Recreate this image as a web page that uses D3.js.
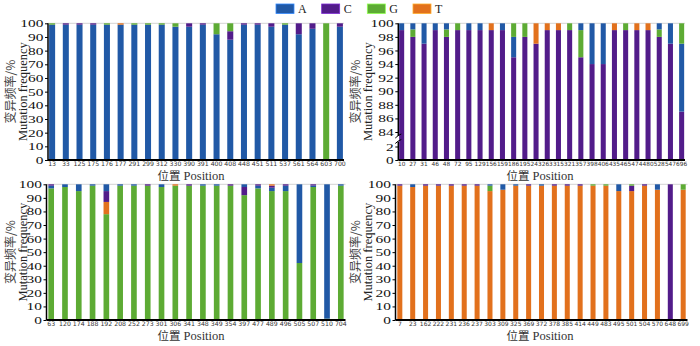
<!DOCTYPE html>
<html><head><meta charset="utf-8">
<script src="https://cdn.jsdelivr.net/npm/d3@7"></script>
<style>body{margin:0;background:#fff} svg{display:block}</style>
</head><body>
<svg id="chart" width="700" height="346"></svg>
<script>
const bases = ["A", "C", "G", "T"];
const colors = {A: "#2159a6", C: "#521c8a", G: "#5dab34", T: "#e2711d"};

// Panel 1 (reference base A)
const p1Positions = ["13","33","125","175","176","177","291","299","312","330","390","391","400","408","448","451","511","537","561","564","603","700"];
const p1A = [99,99,99,99,99,99,99,99,99,97.5,97.5,99,92,88,99,99,97.5,99,92,96,0,97.5];
const p1C = [0,1,1,1,0,0,0,0,0,0,2.5,1,0,6.2,1,1,2.5,0,8,4,0,2.5];
const p1G = [1,0,0,0,1,0,1,1,1,2.5,0,0,8,5.8,0,0,0,1,0,0,100,0];
const p1T = [0,0,0,0,0,1,0,0,0,0,0,0,0,0,0,0,0,0,0,0,0,0];

// Panel 2 (reference base C)
const p2Positions = ["10","27","31","46","48","72","95","129","156","159","186","195","243","263","315","321","357","398","406","435","465","474","480","528","547","696"];
const p2A = [1,0.9,3,1,0.9,0,1,1,0,1,3,0,0,0,0,0,1,6,6,0,0,0,0,0.9,3,10];
const p2C = [99,98,97,99,98,99,99,99,99,99,95,98,97,99,99,99,95,94,94,99,99,99,99,98,97,87];
const p2G = [0,1.1,0,0,1.1,1,0,0,0,0,2,2,0,0,0,1,4,0,0,0,1,0,0,1.1,0,3];
const p2T = [0,0,0,0,0,0,0,0,1,0,0,0,3,1,1,0,0,0,0,1,0,1,1,0,0,0];

// Panel 3 (reference base G)
const p3Positions = ["63","120","174","188","192","208","252","273","301","306","341","348","349","354","397","477","489","496","505","507","510","704"];
const p3A = [2,2,5,1,5,1,1,0,2,0,0,1,1,0,2,2,2.5,4,58,1.1,99,1];
const p3C = [1,0,0,0,8,0,0,1,0,0,1,0,0,1,6,1,1.5,1,0,0.9,0,0];
const p3G = [97,98,95,99,78,99,99,99,98,99,99,99,99,99,92,97,95,95,42,98,1,99];
const p3T = [0,0,0,0,9,0,0,0,0,1,0,0,0,0,0,0,1,0,0,0,0,0];

// Panel 4 (reference base T)
const p4Positions = ["7","23","162","222","231","236","237","303","309","325","369","372","378","385","414","449","483","495","501","504","570","648","699"];
const p4A = [0,2,0,0,0,0,0,1,4,1,0,1,0,0,0,0,0,5,0,0,4,0,0];
const p4C = [1,0,1,1,1,1,1,0,0,0,1,0,1,1,1,0,0,0,4,1,0,100,0];
const p4G = [0,0,0,0,0,0,0,4,0,0,0,0,0,0,0,1,1,0,1,0,0,0,4];
const p4T = [99,98,99,99,99,99,99,95,96,99,99,99,99,99,99,99,99,95,95,99,96,0,96];

const yTicksFull = [0,10,20,30,40,50,60,70,80,90,100];
const yTicksBroken = [0,2,84,86,88,90,92,94,96,98,100];
const legendLabels = ["A", "C", "G", "T"];
const yTitleCn = "变异频率/%";
const yTitleEn = "Mutation frequency";
const xTitleCn = "位置";
const xTitleEn = " Position";

const panels = [
  {pos: p1Positions, vals: {A: p1A, C: p1C, G: p1G, T: p1T}, ref: "A",
   x0: 48, x1: 344, pi: 0.56, po: 0.08,
   yDomain: [0, 100], yRange: [160, 23.3], ticks: yTicksFull, broken: false,
   titleX: 191, titleY: 180, cnX: 9, enX: 23, fs: 6.2},
  {pos: p2Positions, vals: {A: p2A, C: p2C, G: p2G, T: p2T}, ref: "C",
   x0: 398.3, x1: 685, pi: 0.55, po: 0.075,
   yDomain: [0, 2, 84, 100], yRange: [160, 146.5, 132, 23.3], ticks: yTicksBroken, broken: true,
   titleX: 540, titleY: 180, cnX: 354, enX: 368, fs: 5.8},
  {pos: p3Positions, vals: {A: p3A, C: p3C, G: p3G, T: p3T}, ref: "G",
   x0: 46.5, x1: 345.5, pi: 0.59, po: 0.135,
   yDomain: [0, 100], yRange: [320, 184.3], ticks: yTicksFull, broken: false,
   titleX: 191, titleY: 340, cnX: 9, enX: 23, fs: 6.2},
  {pos: p4Positions, vals: {A: p4A, C: p4C, G: p4G, T: p4T}, ref: "T",
   x0: 395.5, x1: 687.5, pi: 0.61, po: 0.14,
   yDomain: [0, 100], yRange: [320, 184.3], ticks: yTicksFull, broken: false,
   titleX: 540, titleY: 340, cnX: 354, enX: 368, fs: 6.0}
];

const svg = d3.select("#chart");
const serif = "'Liberation Serif','Times New Roman',serif";
const cjk = "'Noto Sans CJK SC',sans-serif";

panels.forEach(p => {
  const g = svg.append("g");
  const x = d3.scaleBand().domain(p.pos).range([p.x0, p.x1]).paddingInner(p.pi).paddingOuter(p.po);
  const y = d3.scaleLinear().domain(p.yDomain).range(p.yRange);
  const yTop = y(100), yZero = y(0);

  // top light line
  g.append("line").attr("x1", p.x0).attr("x2", p.x1).attr("y1", yTop).attr("y2", yTop)
    .attr("stroke", "#d4d4d4").attr("stroke-width", 1);

  // stacked segments: reference base first, others by descending value
  const segs = [];
  p.pos.forEach((pos, i) => {
    const others = bases.filter(b => b !== p.ref && p.vals[b][i] > 0)
      .sort((a, b) => p.vals[b][i] - p.vals[a][i]);
    const order = [p.ref, ...others];
    let acc = 0;
    order.forEach(b => {
      const v = p.vals[b][i];
      if (v > 0) { segs.push({pos, b, y0: acc, y1: acc + v}); acc += v; }
    });
  });
  g.selectAll("rect.bar").data(segs).join("rect").attr("class", "bar")
    .attr("x", d => x(d.pos)).attr("width", x.bandwidth())
    .attr("y", d => y(Math.min(d.y1, 100))).attr("height", d => y(d.y0) - y(Math.min(d.y1, 100)))
    .attr("fill", d => colors[d.b]);

  // y axis
  const ax = d3.axisLeft(y).tickValues(p.ticks).tickSize(3).tickPadding(1).tickSizeOuter(0);
  const ag = g.append("g").attr("transform", `translate(${p.x0},0)`).call(ax);
  ag.select(".domain").remove();
  ag.selectAll(".tick line").attr("stroke", "#000").attr("stroke-width", 1);
  ag.selectAll(".tick text").attr("x", -3.3).attr("transform", "scale(1.4,1)")
    .attr("font-family", serif).attr("font-size", 11).attr("fill", "#111");
  if (!p.broken) {
    g.append("line").attr("x1", p.x0).attr("x2", p.x0).attr("y1", yZero).attr("y2", yTop)
      .attr("stroke", "#000").attr("stroke-width", 1.5);
  } else {
    const ya = y(2) - 5, yb = y(84) + 4;
    g.append("line").attr("x1", p.x0).attr("x2", p.x0).attr("y1", yZero).attr("y2", ya)
      .attr("stroke", "#000").attr("stroke-width", 1.5);
    g.append("line").attr("x1", p.x0).attr("x2", p.x0).attr("y1", yb).attr("y2", yTop)
      .attr("stroke", "#000").attr("stroke-width", 1.5);
    [ya, yb].forEach(yy => {
      g.append("path").attr("d", `M${p.x0 - 3},${yy + 2} Q${p.x0},${yy - 1} ${p.x0 + 3},${yy - 2}`)
        .attr("fill", "none").attr("stroke", "#000").attr("stroke-width", 1);
    });
  }

  // x axis line
  g.append("line").attr("x1", p.x0).attr("x2", p.x1).attr("y1", yZero).attr("y2", yZero)
    .attr("stroke", "#000").attr("stroke-width", 2);
  g.selectAll("text.xl").data(p.pos).join("text").attr("class", "xl")
    .attr("x", d => x(d) + x.bandwidth() / 2).attr("y", yZero + 6.3)
    .attr("text-anchor", "middle").attr("font-family", "'DejaVu Sans',sans-serif")
    .attr("font-size", p.fs).attr("fill", "#333").text(d => d);

  // x title
  const xt = g.append("text").attr("x", p.titleX).attr("y", p.titleY).attr("text-anchor", "middle")
    .attr("fill", "#333");
  xt.append("tspan").attr("font-family", cjk).attr("font-size", 11.5).text(xTitleCn);
  xt.append("tspan").attr("font-family", serif).attr("font-size", 12.5).text(xTitleEn);

  // y titles
  const cy = (yZero + yTop) / 2;
  g.append("text").attr("transform", `translate(${p.cnX},${cy}) rotate(-90)`)
    .attr("text-anchor", "middle").attr("dominant-baseline", "central")
    .attr("font-family", cjk).attr("font-size", 12).attr("fill", "#444").text(yTitleCn);
  g.append("text").attr("transform", `translate(${p.enX},${cy}) rotate(-90)`)
    .attr("text-anchor", "middle").attr("dominant-baseline", "central")
    .attr("font-family", serif).attr("font-size", 12.5).attr("fill", "#222").text(yTitleEn);
});

// legend
const lx = d3.scalePoint().domain(legendLabels).range([276, 413]);
const lg = svg.append("g");
legendLabels.forEach(k => {
  lg.append("rect").attr("x", lx(k)).attr("y", 4).attr("width", 18).attr("height", 9.5)
    .attr("fill", colors[k]).attr("stroke", d3.color(colors[k]).brighter(1.2)).attr("stroke-width", 0.8);
  lg.append("text").attr("x", lx(k) + 22).attr("y", 13).attr("font-family", serif)
    .attr("font-size", 12).attr("fill", "#222").text(k);
});
</script>
</body></html>
